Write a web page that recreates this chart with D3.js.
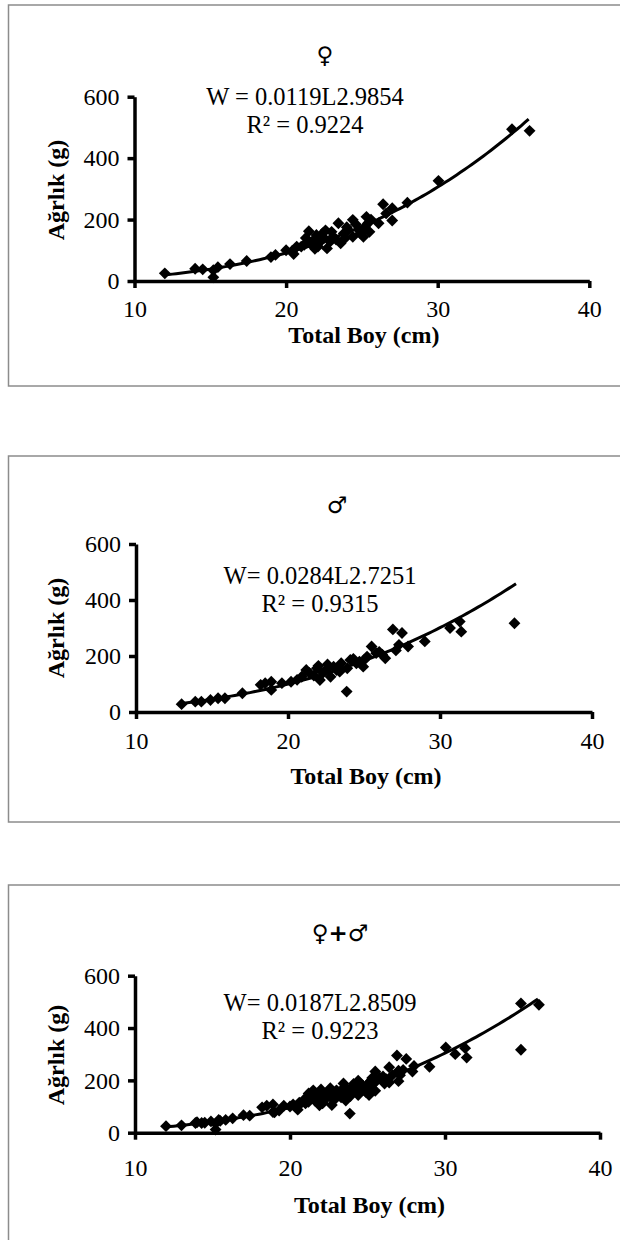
<!DOCTYPE html>
<html>
<head>
<meta charset="utf-8">
<script src="https://cdn.jsdelivr.net/npm/d3@7"></script>
<style>
  body { margin: 0; background: #fff; }
  text { font-family: "Liberation Serif", "Times New Roman", serif; fill: #000; }
</style>
</head>
<body>
<div id="chart"></div>
<script>
// length (cm) / weight (g) pairs
var femaleL = [12, 14, 14.5, 15.2, 15.2, 15.5, 16.3, 17.4, 19, 19.3, 20, 20.4, 20.5, 20.7, 21, 21.2, 21.3, 21.6, 21.5, 21.8, 21.9, 22, 22.1, 22.2, 22.4, 22.5, 22.6, 22.7, 22.9, 23, 23.1, 23.3, 23.45, 23.6, 23.8, 23.9, 24, 24.1, 24.4, 24.4, 24.6, 24.8, 24.9, 25.1, 25.2, 25.3, 25.4, 25.5, 25.6, 26.1, 26.4, 26.6, 27, 27, 28, 30.05, 34.9, 36.06];
var femaleW = [25, 40, 38, 12, 35, 45, 55, 65, 78, 85, 100, 98, 88, 112, 112, 118, 140, 123, 162, 133, 105, 150, 112, 125, 155, 140, 165, 106, 128, 160, 144, 135, 188, 123, 155, 140, 175, 166, 199, 144, 185, 166, 155, 144, 177, 209, 188, 160, 200, 188, 250, 220, 237, 197, 255, 326, 494, 489];
var maleL = [13, 13.9, 14.3, 14.9, 15.4, 15.85, 17, 18.2, 18.5, 18.9, 18.9, 19.6, 20.2, 20.6, 20.9, 21.2, 21.4, 21.7, 21.9, 22, 22.1, 22.3, 22.5, 22.6, 22.8, 23, 23.2, 23.4, 23.5, 23.86, 23.9, 24.1, 24.3, 24.5, 24.7, 24.95, 25, 25.2, 25.5, 25.8, 26, 26.2, 26.4, 26.9, 27.1, 27.3, 27.5, 27.9, 29, 30.66, 31.3, 31.4, 34.9];
var maleW = [28, 37, 37, 43, 49, 49, 67, 97, 103, 108, 79, 103, 108, 115, 126, 150, 140, 130, 156, 165, 114, 140, 150, 170, 126, 162, 150, 144, 174, 73, 156, 186, 190, 174, 180, 162, 185, 198, 234, 210, 215, 205, 192, 295, 220, 240, 282, 234, 252, 300, 323, 287, 317];

var panelTitles = ["\u2640", "\u2642", "\u2640+\u2642"];
var equations = ["W = 0.0119L2.9854", "W= 0.0284L2.7251", "W= 0.0187L2.8509"];
var r2Labels = ["R\u00b2 = 0.9224", "R\u00b2 = 0.9315", "R\u00b2 = 0.9223"];
var fitA = [0.0119, 0.0284, 0.0187];
var fitB = [2.9854, 2.7251, 2.8509];
var fitFrom = [12, 13, 12];
var fitTo = [36.1, 35, 36];
var xTicks = [10, 20, 30, 40];
var yTicks = [0, 200, 400, 600];
var xTitle = "Total Boy (cm)";
var yTitle = "A\u011frl\u0131k (g)";

var panelL = [femaleL, maleL, femaleL.concat(maleL)];
var panelW = [femaleW, maleW, femaleW.concat(maleW)];

// layout of each framed panel
var layout = [
  {top: 5, bottom: 386, x0: 134.5, x1: 589.3, y0: 281, y1: 96.7, pad: 12, titleX: 325, titleY: 63, eqX: 305, eqY: 105, xtY: 343, ytY: 190},
  {top: 456, bottom: 822, x0: 136, x1: 592, y0: 712, y1: 544, pad: 13, titleX: 337, titleY: 513, eqX: 320, eqY: 584, xtY: 784, ytY: 628},
  {top: 885, bottom: 1260, x0: 135, x1: 600, y0: 1132.7, y1: 975.7, pad: 19, titleX: 340, titleY: 941, eqX: 320, eqY: 1011, xtY: 1213, ytY: 1055}
];

var svg = d3.select("#chart").append("svg")
  .attr("width", 620)
  .attr("height", 1240);

svg.append("rect").attr("width", 620).attr("height", 1240).attr("fill", "#fff");

var diamond = d3.symbol().type(d3.symbolSquare).size(70);

layout.forEach(function (p, i) {
  var g = svg.append("g");

  g.append("rect")
    .attr("x", 8.5).attr("y", p.top)
    .attr("width", 640).attr("height", p.bottom - p.top)
    .attr("fill", "none").attr("stroke", "#8c8c8c").attr("stroke-width", 1.5);

  var x = d3.scaleLinear().domain([10, 40]).range([p.x0, p.x1]);
  var y = d3.scaleLinear().domain([0, 600]).range([p.y0, p.y1]);

  var xAxis = g.append("g")
    .attr("transform", "translate(0," + p.y0 + ")")
    .call(d3.axisBottom(x).tickValues(xTicks).tickSize(7).tickPadding(p.pad).tickSizeOuter(0));
  var yAxis = g.append("g")
    .attr("transform", "translate(" + p.x0 + ",0)")
    .call(d3.axisLeft(y).tickValues(yTicks).tickSize(7).tickPadding(8).tickSizeOuter(0));

  [xAxis, yAxis].forEach(function (a) {
    a.select(".domain").attr("stroke", "#000").attr("stroke-width", 3.5);
    a.selectAll(".tick line").attr("stroke", "#000").attr("stroke-width", 3.5);
    a.selectAll(".tick text")
      .style("font-family", "'Liberation Serif', serif")
      .style("font-size", "24px").attr("fill", "#000");
  });

  // trend line from the fitted equation shown on the chart
  var fitPts = d3.range(fitFrom[i], fitTo[i] + 0.001, 0.25).map(function (L) {
    return [L, fitA[i] * Math.pow(L, fitB[i])];
  });
  g.append("path")
    .datum(fitPts)
    .attr("fill", "none").attr("stroke", "#000").attr("stroke-width", 3)
    .attr("d", d3.line().x(function (d) { return x(d[0]); }).y(function (d) { return y(d[1]); }));

  var pts = panelL[i].map(function (L, k) { return [L, panelW[i][k]]; });
  g.selectAll(".pt").data(pts).enter().append("path")
    .attr("d", diamond)
    .attr("transform", function (d) { return "translate(" + x(d[0]) + "," + y(d[1]) + ") rotate(45)"; })
    .attr("fill", "#000");

  g.append("text")
    .attr("x", p.titleX).attr("y", p.titleY)
    .attr("text-anchor", "middle")
    .style("font-family", "'DejaVu Sans', sans-serif").style("font-weight", "bold").style("font-size", "23px")
    .text(panelTitles[i]);

  g.append("text")
    .attr("x", p.eqX).attr("y", p.eqY)
    .attr("text-anchor", "middle").style("font-size", "24.5px")
    .text(equations[i]);
  g.append("text")
    .attr("x", p.eqX).attr("y", p.eqY + 28)
    .attr("text-anchor", "middle").style("font-size", "24.5px")
    .text(r2Labels[i]);

  g.append("text")
    .attr("x", (p.x0 + p.x1) / 2 + 2).attr("y", p.xtY)
    .attr("text-anchor", "middle").style("font-size", "24px").style("font-weight", "bold")
    .text(xTitle);

  g.append("text")
    .attr("transform", "translate(64," + p.ytY + ") rotate(-90)")
    .attr("text-anchor", "middle").style("font-size", "24px").style("font-weight", "bold")
    .text(yTitle);
});
</script>
</body>
</html>
